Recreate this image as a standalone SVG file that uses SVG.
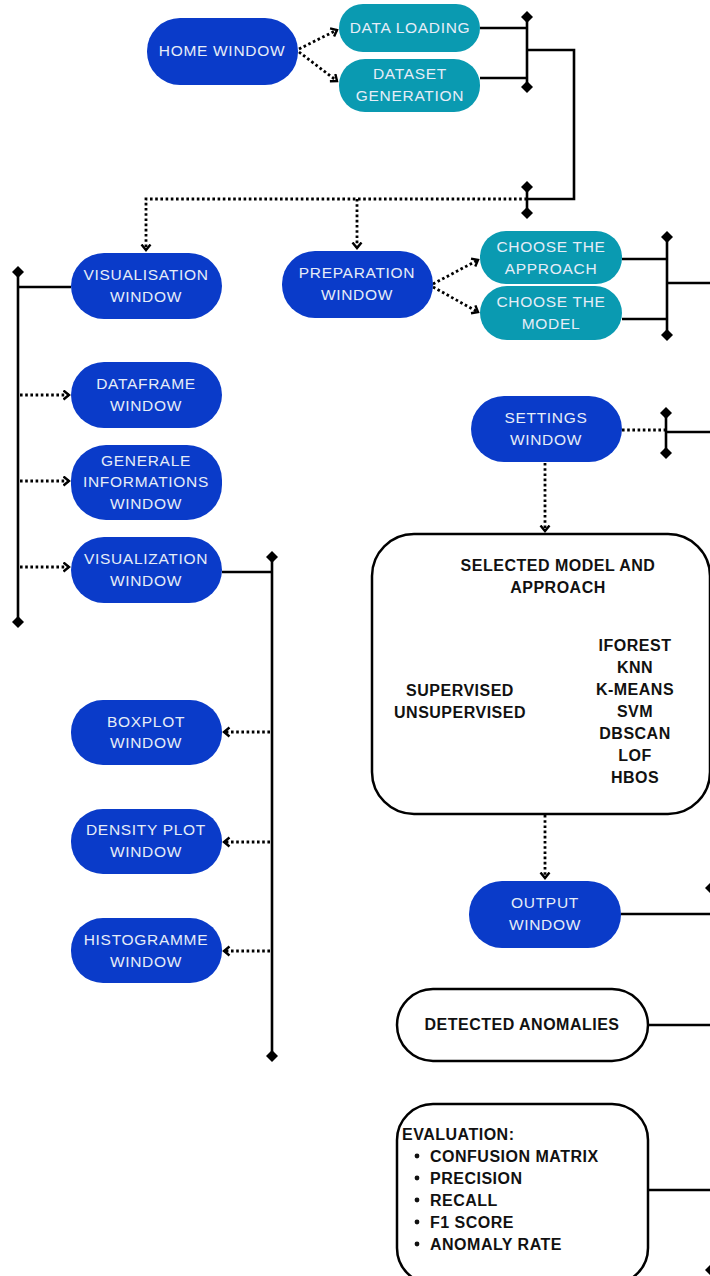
<svg xmlns="http://www.w3.org/2000/svg" width="710" height="1276" viewBox="0 0 710 1276">
<defs>
<marker id="arr" markerUnits="userSpaceOnUse" markerWidth="12" markerHeight="12" refX="6.5" refY="5.5" orient="auto">
<path d="M1,1 L6.5,5.5 L1,10" fill="none" stroke="#000" stroke-width="2.4"/>
</marker>
<marker id="dia" markerUnits="userSpaceOnUse" markerWidth="13" markerHeight="13" refX="6.5" refY="6.5" orient="auto">
<path d="M6.5,0.5 L12.5,6.5 L6.5,12.5 L0.5,6.5 Z" fill="#000"/>
</marker>
<style>
.blue{fill:#0A3BC9}
.teal{fill:#0A9AB1}
.wbox{fill:#fff;stroke:#000;stroke-width:2.5}
.lt{font-family:"Liberation Sans",Arial,sans-serif;font-size:15.5px;fill:#E6EDF8;text-anchor:middle;letter-spacing:0.7px}
.bt{font-family:"Liberation Sans",Arial,sans-serif;font-size:16px;font-weight:bold;fill:#111;text-anchor:middle;letter-spacing:0.5px}
.bl{font-family:"Liberation Sans",Arial,sans-serif;font-size:16px;font-weight:bold;fill:#111;letter-spacing:0.5px}
.dot{fill:none;stroke:#000;stroke-width:2.8;stroke-dasharray:2.6 2.6}
.sol{fill:none;stroke:#000;stroke-width:2.6}
</style>
</defs>
<rect width="710" height="1276" fill="#fff"/>

<g id="connectors">
<path class="dot" d="M299,49 L337,30" marker-end="url(#arr)"/>
<path class="dot" d="M299,52 L337,81" marker-end="url(#arr)"/>
<path class="sol" d="M527,17 L527,87" marker-start="url(#dia)" marker-end="url(#dia)"/>
<path class="sol" d="M480,28 L527,28"/>
<path class="sol" d="M480,78 L527,78"/>
<path class="sol" d="M527,50 L574,50 L574,199 L527,199"/>
<path class="sol" d="M527,187 L527,213" marker-start="url(#dia)" marker-end="url(#dia)"/>
<path class="dot" d="M527,199 L146,199 L146,250" marker-end="url(#arr)"/>
<path class="dot" d="M357,199 L357,248" marker-end="url(#arr)"/>
<path class="sol" d="M18,272 L18,622" marker-start="url(#dia)" marker-end="url(#dia)"/>
<path class="sol" d="M18,287 L71,287"/>
<path class="dot" d="M20,395 L69,395" marker-end="url(#arr)"/>
<path class="dot" d="M20,481 L69,481" marker-end="url(#arr)"/>
<path class="dot" d="M20,567 L69,567" marker-end="url(#arr)"/>
<path class="sol" d="M272,557 L272,1056" marker-start="url(#dia)" marker-end="url(#dia)"/>
<path class="sol" d="M222,572 L272,572"/>
<path class="dot" d="M270,732 L224,732" marker-end="url(#arr)"/>
<path class="dot" d="M270,842 L224,842" marker-end="url(#arr)"/>
<path class="dot" d="M270,951 L224,951" marker-end="url(#arr)"/>
<path class="dot" d="M433,284 L478,260" marker-end="url(#arr)"/>
<path class="dot" d="M433,287 L478,312" marker-end="url(#arr)"/>
<path class="sol" d="M667,237 L667,335" marker-start="url(#dia)" marker-end="url(#dia)"/>
<path class="sol" d="M622,259 L667,259"/>
<path class="sol" d="M622,319 L667,319"/>
<path class="sol" d="M667,283 L710,283"/>
<path class="dot" d="M622,430 L666,430"/>
<path class="sol" d="M666,413 L666,453" marker-start="url(#dia)" marker-end="url(#dia)"/>
<path class="sol" d="M666,432 L710,432"/>
<path class="dot" d="M545,463 L545,531" marker-end="url(#arr)"/>
<path class="dot" d="M545,815 L545,878" marker-end="url(#arr)"/>
<path class="sol" d="M621,914 L710,914"/>
<path class="sol" d="M648,1025 L710,1025"/>
<path class="sol" d="M648,1190 L710,1190"/>
<path d="M710,883 L705,888 L710,893 Z" fill="#000"/>
<path d="M710,1265 L705,1270 L710,1275 Z" fill="#000"/>
</g>

<g id="home-window">
<rect class="blue" x="147" y="18" width="151" height="67" rx="33"/>
<text class="lt" x="222" y="56">HOME WINDOW</text>
</g>
<g id="data-loading">
<rect class="teal" x="339" y="4" width="141" height="48" rx="24"/>
<text class="lt" x="410" y="33">DATA LOADING</text>
</g>
<g id="dataset-generation">
<rect class="teal" x="339" y="59" width="141" height="53" rx="26"/>
<text class="lt" x="410" y="79">DATASET</text>
<text class="lt" x="410" y="101">GENERATION</text>
</g>
<g id="visualisation-window">
<rect class="blue" x="71" y="253" width="151" height="66" rx="33"/>
<text class="lt" x="146" y="280">VISUALISATION</text>
<text class="lt" x="146" y="302">WINDOW</text>
</g>
<g id="preparation-window">
<rect class="blue" x="282" y="251" width="151" height="67" rx="33"/>
<text class="lt" x="357" y="278">PREPARATION</text>
<text class="lt" x="357" y="300">WINDOW</text>
</g>
<g id="choose-approach">
<rect class="teal" x="480" y="231" width="142" height="53" rx="26"/>
<text class="lt" x="551" y="252">CHOOSE THE</text>
<text class="lt" x="551" y="274">APPROACH</text>
</g>
<g id="choose-model">
<rect class="teal" x="480" y="286" width="142" height="54" rx="27"/>
<text class="lt" x="551" y="307">CHOOSE THE</text>
<text class="lt" x="551" y="329">MODEL</text>
</g>
<g id="dataframe-window">
<rect class="blue" x="71" y="362" width="151" height="66" rx="33"/>
<text class="lt" x="146" y="389">DATAFRAME</text>
<text class="lt" x="146" y="411">WINDOW</text>
</g>
<g id="generale-informations-window">
<rect class="blue" x="71" y="445" width="151" height="75" rx="35"/>
<text class="lt" x="146" y="466">GENERALE</text>
<text class="lt" x="146" y="487">INFORMATIONS</text>
<text class="lt" x="146" y="509">WINDOW</text>
</g>
<g id="visualization-window">
<rect class="blue" x="71" y="537" width="151" height="66" rx="33"/>
<text class="lt" x="146" y="564">VISUALIZATION</text>
<text class="lt" x="146" y="586">WINDOW</text>
</g>
<g id="boxplot-window">
<rect class="blue" x="71" y="700" width="151" height="65" rx="32"/>
<text class="lt" x="146" y="727">BOXPLOT</text>
<text class="lt" x="146" y="748">WINDOW</text>
</g>
<g id="density-plot-window">
<rect class="blue" x="71" y="809" width="151" height="65" rx="32"/>
<text class="lt" x="146" y="835">DENSITY PLOT</text>
<text class="lt" x="146" y="857">WINDOW</text>
</g>
<g id="histogramme-window">
<rect class="blue" x="71" y="918" width="151" height="65" rx="32"/>
<text class="lt" x="146" y="945">HISTOGRAMME</text>
<text class="lt" x="146" y="967">WINDOW</text>
</g>
<g id="settings-window">
<rect class="blue" x="471" y="396" width="151" height="66" rx="33"/>
<text class="lt" x="546" y="423">SETTINGS</text>
<text class="lt" x="546" y="445">WINDOW</text>
</g>
<g id="selected-model">
<rect class="wbox" x="372" y="534" width="338" height="280" rx="42"/>
<text class="bt" x="558" y="571">SELECTED MODEL AND</text>
<text class="bt" x="558" y="593">APPROACH</text>
<text class="bt" x="460" y="696">SUPERVISED</text>
<text class="bt" x="460" y="718">UNSUPERVISED</text>
<text class="bt" x="635" y="651">IFOREST</text>
<text class="bt" x="635" y="673">KNN</text>
<text class="bt" x="635" y="695">K-MEANS</text>
<text class="bt" x="635" y="717">SVM</text>
<text class="bt" x="635" y="739">DBSCAN</text>
<text class="bt" x="635" y="761">LOF</text>
<text class="bt" x="635" y="783">HBOS</text>
</g>
<g id="output-window">
<rect class="blue" x="469" y="881" width="152" height="67" rx="33"/>
<text class="lt" x="545" y="908">OUTPUT</text>
<text class="lt" x="545" y="930">WINDOW</text>
</g>
<g id="detected-anomalies">
<rect class="wbox" x="397" y="989" width="251" height="72" rx="36"/>
<text class="bt" x="522" y="1030">DETECTED ANOMALIES</text>
</g>
<g id="evaluation">
<rect class="wbox" x="397" y="1104" width="251" height="180" rx="36"/>
<text class="bl" x="402" y="1140">EVALUATION:</text>
<circle cx="417" cy="1156" r="2.4" fill="#111"/>
<circle cx="417" cy="1178" r="2.4" fill="#111"/>
<circle cx="417" cy="1200" r="2.4" fill="#111"/>
<circle cx="417" cy="1222" r="2.4" fill="#111"/>
<circle cx="417" cy="1244" r="2.4" fill="#111"/>
<text class="bl" x="430" y="1162">CONFUSION MATRIX</text>
<text class="bl" x="430" y="1184">PRECISION</text>
<text class="bl" x="430" y="1206">RECALL</text>
<text class="bl" x="430" y="1228">F1 SCORE</text>
<text class="bl" x="430" y="1250">ANOMALY RATE</text>
</g>
</svg>
